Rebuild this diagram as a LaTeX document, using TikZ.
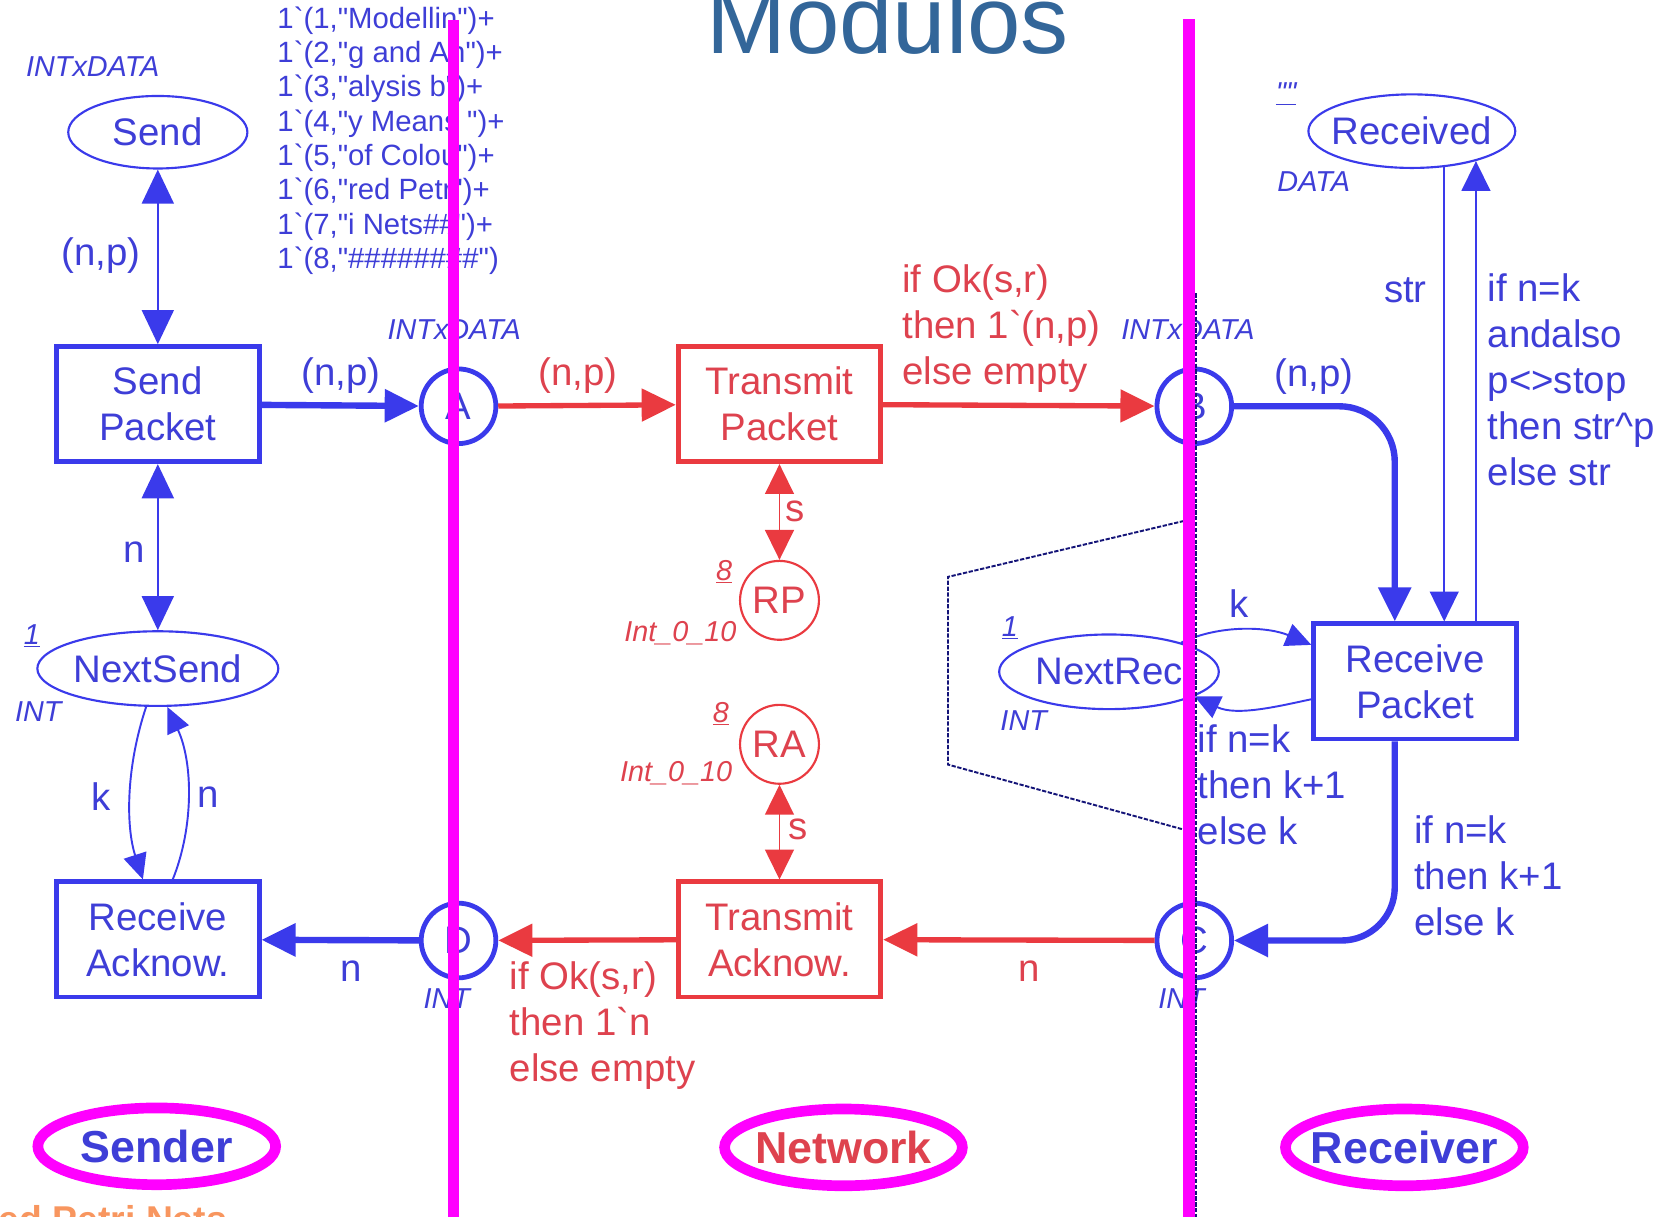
\documentclass[tikz,border=0pt]{standalone}
\usepackage{fontspec}
\setmainfont{Liberation Sans}
\usetikzlibrary{arrows.meta,shapes.geometric,calc}
\newcommand\myfs[2]{\fontsize{#1}{#2}\selectfont}
\newcommand\qq{\textquotedbl}
\definecolor{cblue}{RGB}{58,58,235}
\definecolor{tblue}{RGB}{62,62,215}
\definecolor{cred}{RGB}{234,58,64}
\definecolor{tred}{RGB}{222,66,78}
\definecolor{titleblue}{RGB}{51,102,153}
\definecolor{mag}{RGB}{255,0,255}
\definecolor{navyd}{RGB}{20,20,120}
\definecolor{orangec}{RGB}{248,150,95}
\begin{document}
\begin{tikzpicture}[x=1pt,y=-1pt,
  bigtri/.tip={Triangle[length=32pt,width=30pt]},
  midtri/.tip={Triangle[length=28pt,width=27pt]},
  smalltri/.tip={Triangle[length=24pt,width=22pt]},
  txt/.style={inner sep=0pt, font=\myfs{36}{43}, align=left},
  btxt/.style={txt, text=tblue},
  rtxt/.style={txt, text=tred},
  typ/.style={inner sep=0pt, font=\itshape\myfs{27}{32}},
  btyp/.style={typ, text=tblue},
  rtyp/.style={typ, text=tred},
  trans/.style={draw, rectangle, line width=4.5pt, minimum width=190pt, minimum height=108pt, align=center, inner sep=0pt, font=\myfs{36}{43}},
  btrans/.style={trans, draw=cblue, text=tblue},
  rtrans/.style={trans, draw=cred, text=tred},
  bplace/.style={draw=cblue, line width=2pt, ellipse, inner sep=0pt, text=tblue, font=\myfs{36}{43}},
  port/.style={draw=cblue, line width=4.5pt, circle, minimum size=70pt, inner sep=0pt, text=tblue, font=\myfs{36}{43}},
  rplace/.style={draw=cred, line width=2pt, circle, minimum size=74pt, inner sep=0pt, text=tred, font=\myfs{36}{43}},
  barc/.style={draw=cblue, line width=1.8pt},
  bthick/.style={draw=cblue, line width=6pt},
  rthick/.style={draw=cred, line width=5pt},
  rarc/.style={draw=cred, line width=1.8pt},
  module/.style={draw=mag, line width=10pt, ellipse, minimum width=223pt, minimum height=72pt, inner sep=0pt, font=\bfseries\myfs{42}{50}},
  modline/.style={draw=mag, line width=10.5pt},
  border/.style={draw=navyd, line width=1.8pt, dash pattern=on 4pt off 1.5pt},
]
\useasboundingbox (0,0) rectangle (1568,1141);
\fill[white] (0,0) rectangle (1568,1141);

% title
\node[anchor=base west, inner sep=0pt, text=titleblue, font=\myfs{90}{100}] (title) at (662,50) {Modulos};

% ---------- Sender ----------
\node[bplace, minimum width=168pt, minimum height=68pt] (Send) at (148,124) {\makebox[0pt]{Send}};
\node[btyp] (tSend) at (87,62) {INTxDATA};
\node[anchor=north west, inner sep=0pt, text=tblue, font=\myfs{27.5}{32.2}, align=left] (mark) at (260,6)
 {1\textasciigrave(1,\qq Modellin\qq)+\\
  1\textasciigrave(2,\qq g and An\qq)+\\
  1\textasciigrave(3,\qq alysis b\qq)+\\
  1\textasciigrave(4,\qq y Means \qq)+\\
  1\textasciigrave(5,\qq of Colou\qq)+\\
  1\textasciigrave(6,\qq red Petr\qq)+\\
  1\textasciigrave(7,\qq i Nets\#\#\qq)+\\
  1\textasciigrave(8,\qq\#\#\#\#\#\#\#\#\qq)};
\node[btrans] (SendP) at (148,379) {Send\\Packet};
\node[bplace, minimum width=226pt, minimum height=70pt] (NextSend) at (148,627) {\makebox[0pt]{NextSend}};
\node[btyp] (mNS) at (30,596) {\underline{1}};
\node[btyp] (tNS) at (36,667) {INT};
\node[btrans] (RecvA) at (148,881) {Receive\\Acknow.};

\draw[barc, bigtri-bigtri] (Send) -- (SendP);
\node[btxt] (lSend) at (95,240) {(n,p)};
\draw[barc, bigtri-bigtri] (SendP) -- (NextSend);
\node[btxt] (lNS) at (126,518) {n};
\draw[barc, -smalltri] ($(NextSend.south)+(-11,0)$) .. controls (118,720) and (118,775) .. ($(RecvA.north)+(-14,0)$);
\draw[barc, -smalltri] ($(RecvA.north)+(14,0)$) .. controls (182,775) and (181,715) .. ($(NextSend.south)+(9,0)$);
\node[btxt] (lk) at (95,747) {k};
\node[btxt] (ln) at (195,748) {n};

% ports
\node[port] (A) at (430,381) {A};
\node[btyp] (tA) at (426,309) {INTxDATA};
\node[port] (D) at (430,882) {D};
\node[btyp] (tD) at (419,936) {INT};
\node[port] (B) at (1120,381) {B};
\node[btyp] (tB) at (1114,309) {INTxDATA};
\node[port] (C) at (1120,882) {C};
\node[btyp] (tC) at (1108,936) {INT};

\draw[bthick, -bigtri] (SendP) -- (A);
\node[btxt] (lSA) at (320,352) {(n,p)};
\draw[bthick, -bigtri] (D) -- (RecvA);
\node[btxt] (lDR) at (329,911) {n};

% ---------- Network ----------
\node[rtrans] (TP) at (731,379) {Transmit\\Packet};
\node[rtrans] (TA) at (731,881) {Transmit\\Acknow.};
\node[rplace] (RP) at (731,563) {RP};
\node[rtyp] (mRP) at (679,536) {\underline{8}};
\node[rtyp] (tRP) at (638,594) {Int\_0\_10};
\node[rplace] (RA) at (731,698) {RA};
\node[rtyp] (mRA) at (676,669) {\underline{8}};
\node[rtyp] (tRA) at (634,725) {Int\_0\_10};

\draw[rthick, -bigtri] (A) -- (TP);
\node[rtxt] (lAT) at (542,352) {(n,p)};
\draw[rthick, -bigtri] (TP) -- (B);
\node[rtxt, anchor=west] (lTB) at (846,308) {if Ok(s,r)\\then 1\textasciigrave(n,p)\\else empty};
\draw[rarc, midtri-midtri] (TP) -- (RP);
\node[rtxt] (ls1) at (746,480) {s};
\draw[rarc, midtri-midtri] (RA) -- (TA);
\node[rtxt] (ls2) at (748,778) {s};
\draw[rthick, -bigtri] (C) -- (TA);
\node[rtxt] (lCT) at (965,911) {n};
\draw[rthick, -bigtri] (TA) -- (D);
\node[rtxt, anchor=west] (lTD) at (478,962) {if Ok(s,r)\\then 1\textasciigrave n\\else empty};

% ---------- Receiver ----------
\node[bplace, minimum width=194pt, minimum height=69pt] (Rcvd) at (1324,123) {\makebox[0pt]{Received}};
\node[btyp] (mRc) at (1206,88) {\underline{\qq\qq}};
\node[btyp] (tRc) at (1232,170) {DATA};
\node[btrans] (RecvP) at (1327,639) {Receive\\Packet};
\node[bplace, minimum width=206pt, minimum height=70pt] (NextRec) at (1040,630) {\makebox[0pt]{NextRec}};
\node[btyp] (mNR) at (947,589) {\underline{1}};
\node[btyp] (tNR) at (960,676) {INT};

\draw[bthick, -bigtri, rounded corners=52pt] (B) -| ($(RecvP.north)+(-19,0)$);
\node[btxt] (lBR) at (1232,353) {(n,p)};
\draw[barc, -midtri] (Rcvd.312) -- (Rcvd.312 |- RecvP.north);
\node[btxt] (lstr) at (1318,272) {str};
\draw[barc, -midtri] (RecvP.north -| Rcvd.335) -- (Rcvd.335);
\node[btxt, anchor=west] (lRR) at (1395,356) {if n=k\\andalso\\p<>stop\\then str\textasciicircum p\\else str};
\draw[bthick, -bigtri, rounded corners=50pt] ($(RecvP.south)+(-19,0)$) |- (C);
\node[btxt, anchor=west] (lRC) at (1326,821) {if n=k\\then k+1\\else k};
\draw[barc, -smalltri] (NextRec.22) .. controls (1145,585) and (1190,588) .. ($(RecvP.north west)+(0,22)$);
\node[btxt] (lkR) at (1162,566) {k};
\draw[barc, -smalltri] ($(RecvP.north west)+(0,73)$) .. controls (1200,662) and (1160,672) .. (NextRec.-16);
\node[btxt, anchor=west] (lRN) at (1123,736) {if n=k\\then k+1\\else k};

% module border of the receiver
\draw[border] (1122,275) -- (1122,1150);
\draw[border] (1121,486) -- (889,541) -- (889,717) -- (1121,781);

% ---------- module labels ----------
\node[module, text=tblue] (sender) at (147,1075) {\makebox[0pt]{Sender}};
\node[module, text=tred] (network) at (791,1076) {\makebox[0pt]{Network}};
\node[module, text=tblue] (receiver) at (1317,1076) {\makebox[0pt]{Receiver}};
\node[anchor=base east, inner sep=0pt, text=orangec, font=\bfseries\myfs{35}{40}] (footer) at (213,1156) {Coloured Petri Nets};

% dividing lines
\draw[modline] (425,19) -- (425,1150);
\draw[modline] (1115,18) -- (1115,1150);
\end{tikzpicture}
\end{document}
